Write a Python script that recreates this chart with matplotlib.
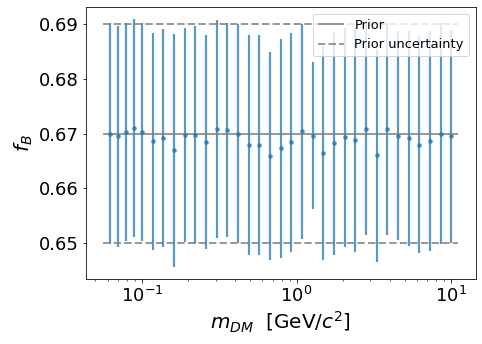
import matplotlib
matplotlib.use("Agg")
import matplotlib.pyplot as plt
import numpy as np

# Dark-matter masses [GeV/c^2]
m_dm = [0.0625, 0.0700, 0.0785, 0.0885,
        0.1000, 0.1172, 0.1374, 0.1610, 0.1887, 0.2212, 0.2593, 0.3039,
        0.3562, 0.4175, 0.4894, 0.5736, 0.6723, 0.7880, 0.9237, 1.0826,
        1.2690, 1.4874, 1.7433, 2.0434, 2.3950, 2.8072, 3.2903, 3.8566,
        4.5204, 5.2983, 6.2102, 7.2790, 8.5317, 10.000]

f_b = [0.6700, 0.6695, 0.67025, 0.6710, 0.67025, 0.6686, 0.66915, 0.66695,
       0.6697, 0.6697, 0.6684, 0.6708, 0.6706, 0.6700, 0.6679, 0.6679,
       0.6659, 0.6673, 0.6684, 0.6704, 0.6696, 0.6664, 0.6682, 0.6693,
       0.6689, 0.6709, 0.6660, 0.6709, 0.6696, 0.6691, 0.6680, 0.6686,
       0.6700, 0.6695]

f_b_err = [0.0201, 0.0201, 0.0198, 0.0198, 0.0199, 0.0198, 0.0199, 0.0212,
           0.0195, 0.0199, 0.0195, 0.0198, 0.0195, 0.0199, 0.0201, 0.0201,
           0.0189, 0.0200, 0.0200, 0.0196, 0.0134, 0.0195, 0.0203, 0.0199,
           0.0205, 0.0194, 0.0194, 0.0193, 0.0190, 0.0195, 0.0197, 0.0200,
           0.0201, 0.0194]

prior = 0.67
prior_unc = 0.02

DPI = 72
fig = plt.figure(figsize=(482 / DPI, 344 / DPI), dpi=DPI)
ax = fig.add_axes([85.5 / 482, 65 / 344, (475.5 - 85.5) / 482, (337 - 65) / 344])

ax.errorbar(m_dm, f_b, yerr=f_b_err, fmt='.', color='#1f77b4',
            ecolor='#1f77b4', elinewidth=2.2, markersize=7, alpha=0.75)

x0 = min(m_dm) * 0.9
x1 = max(m_dm) * 1.1
ax.hlines(prior, x0, x1, colors='gray', linestyles='-', lw=2, alpha=0.8,
          label='Prior')
ax.hlines([prior - prior_unc, prior + prior_unc], x0, x1, colors='gray',
          linestyles='--', lw=2, alpha=0.8, label='Prior uncertainty')

ax.set_xscale('log')
ax.set_xlabel(r'$m_{DM}$  [GeV/$c^2$]', fontsize=20)
ax.set_ylabel(r'$f_B$', fontsize=20)
ax.tick_params(axis='both', which='major', labelsize=18)
ax.legend(loc='upper right', fontsize=13)

fig.savefig('out.png', dpi=DPI)
